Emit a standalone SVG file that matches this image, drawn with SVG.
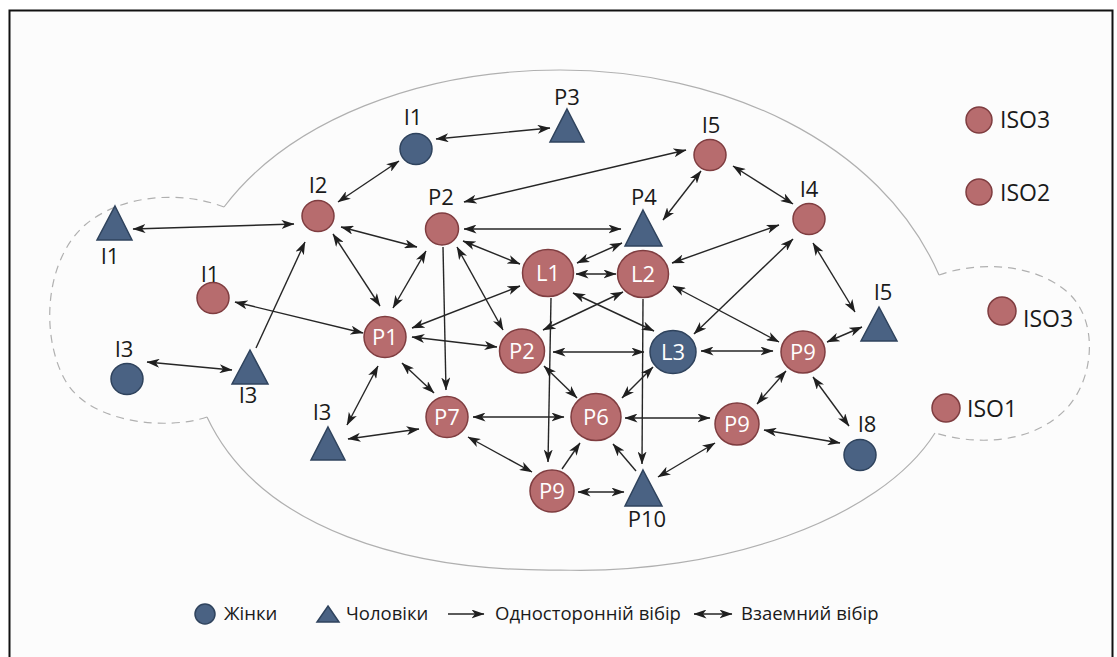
<svg xmlns="http://www.w3.org/2000/svg" width="1117" height="657" viewBox="0 0 1117 657">
<defs>
<marker id="arr" viewBox="0 0 13 9" refX="12.5" refY="4.5" markerWidth="13" markerHeight="9" markerUnits="userSpaceOnUse" orient="auto-start-reverse">
<path d="M0,0 L13,4.5 L0,9 L3.5,4.5 z" fill="#1f1f1f"/>
</marker>
<style>
.edge{stroke:#262626;stroke-width:1.4;fill:none}
.dbl{marker-start:url(#arr);marker-end:url(#arr)}
.one{marker-end:url(#arr)}
.red{fill:#b76c6e;stroke:#7f3d40;stroke-width:1.5}
.blue{fill:#4a6283;stroke:#2f435d;stroke-width:1.5}
.lbl{font-family:"Open Sans","Liberation Sans",sans-serif;font-size:22px;fill:#1a1a1a;text-anchor:middle}
.in{font-family:"Open Sans","Liberation Sans",sans-serif;font-size:22px;fill:#ffffff;text-anchor:middle}
.iso{font-family:"Open Sans","Liberation Sans",sans-serif;font-size:23px;fill:#1a1a1a}
.leg{font-family:"Open Sans","Liberation Sans",sans-serif;font-size:18.5px;fill:#1a1a1a}
.bnd{fill:none;stroke:#b0b0b0;stroke-width:1.2}
.dash{fill:none;stroke:#b0b0b0;stroke-width:1.2;stroke-dasharray:8 6}
</style>
</defs>
<rect x="0" y="0" width="1117" height="657" fill="#ffffff"/>
<rect x="9.5" y="10.5" width="1103" height="660" fill="#fcfcfc" stroke="#111" stroke-width="2"/>

<g id="boundary">
<path class="bnd" d="M224,207 C290,120 420,70 560,70 C720,70 880,140 939,275"/>
<path class="dash" d="M939,275 C975,262 1030,262 1065,290 C1100,318 1095,380 1065,410 C1030,445 975,445 935,433"/>
<path class="bnd" d="M935,433 C880,520 720,575 560,570 C410,572 260,530 207,417"/>
<path class="dash" d="M207,417 C170,430 90,425 65,380 C40,335 45,260 85,225 C120,195 180,190 224,207"/>
</g>

<g id="connectors">
<line class="edge dbl" x1="436" y1="139" x2="550" y2="128"/>
<line class="edge dbl" x1="338" y1="202" x2="399" y2="161"/>
<line class="edge dbl" x1="133" y1="229" x2="294" y2="224"/>
<line class="edge dbl" x1="341" y1="227" x2="417" y2="247"/>
<line class="edge dbl" x1="333" y1="234" x2="380" y2="306"/>
<line class="edge dbl" x1="426" y1="251" x2="393" y2="308"/>
<line class="edge one" x1="256" y1="348" x2="305" y2="242"/>
<line class="edge dbl" x1="235" y1="302" x2="363" y2="333"/>
<line class="edge dbl" x1="147" y1="362" x2="232" y2="370"/>
<line class="edge dbl" x1="378" y1="366" x2="347" y2="425"/>
<line class="edge dbl" x1="348" y1="439" x2="419" y2="429"/>
<line class="edge dbl" x1="402" y1="363" x2="434" y2="393"/>
<line class="edge one" x1="443" y1="247" x2="446" y2="390"/>
<line class="edge dbl" x1="464" y1="229" x2="621" y2="229"/>
<line class="edge dbl" x1="464" y1="202" x2="686" y2="150"/>
<line class="edge dbl" x1="463" y1="241" x2="520" y2="264"/>
<line class="edge dbl" x1="457" y1="247" x2="503" y2="330"/>
<line class="edge dbl" x1="520" y1="286" x2="412" y2="328"/>
<line class="edge dbl" x1="412" y1="337" x2="497" y2="347"/>
<line class="edge dbl" x1="623" y1="292" x2="543" y2="330"/>
<line class="edge dbl" x1="576" y1="274" x2="616" y2="274"/>
<line class="edge dbl" x1="577" y1="263" x2="622" y2="243"/>
<line class="edge dbl" x1="663" y1="220" x2="701" y2="171"/>
<line class="edge dbl" x1="733" y1="166" x2="793" y2="204"/>
<line class="edge dbl" x1="779" y1="225" x2="672" y2="263"/>
<line class="edge dbl" x1="793" y1="239" x2="694" y2="334"/>
<line class="edge dbl" x1="813" y1="243" x2="855" y2="312"/>
<line class="edge dbl" x1="673" y1="286" x2="779" y2="342"/>
<line class="edge dbl" x1="573" y1="293" x2="654" y2="331"/>
<line class="edge dbl" x1="553" y1="352" x2="644" y2="352"/>
<line class="edge dbl" x1="701" y1="351" x2="773" y2="351"/>
<line class="edge dbl" x1="827" y1="342" x2="862" y2="327"/>
<line class="edge dbl" x1="786" y1="371" x2="757" y2="404"/>
<line class="edge dbl" x1="813" y1="377" x2="849" y2="426"/>
<line class="edge dbl" x1="764" y1="430" x2="840" y2="443"/>
<line class="edge one" x1="551" y1="298" x2="548" y2="462"/>
<line class="edge one" x1="643" y1="299" x2="642" y2="464"/>
<line class="edge dbl" x1="544" y1="366" x2="577" y2="398"/>
<line class="edge dbl" x1="653" y1="367" x2="622" y2="398"/>
<line class="edge dbl" x1="473" y1="417" x2="564" y2="417"/>
<line class="edge dbl" x1="625" y1="418" x2="710" y2="418"/>
<line class="edge dbl" x1="468" y1="437" x2="532" y2="472"/>
<line class="edge one" x1="562" y1="469" x2="580" y2="443"/>
<line class="edge one" x1="636" y1="471" x2="613" y2="444"/>
<line class="edge dbl" x1="578" y1="492" x2="624" y2="492"/>
<line class="edge dbl" x1="658" y1="477" x2="715" y2="443"/>
</g>

<g id="I1-top"><ellipse class="blue" cx="416" cy="149" rx="16" ry="15.5"/><text class="lbl" x="413" y="125">I1</text></g>
<g id="P3-top"><polygon class="blue" points="567,109 584,142 550,142"/><text class="lbl" x="567" y="105">P3</text></g>
<g id="I5-top"><ellipse class="red" cx="710" cy="155" rx="16" ry="15.5"/><text class="lbl" x="711" y="133">I5</text></g>
<g id="I2"><ellipse class="red" cx="318" cy="216" rx="16" ry="15.5"/><text class="lbl" x="318" y="193">I2</text></g>
<g id="P2-top"><ellipse class="red" cx="442" cy="229" rx="16.5" ry="16"/><text class="lbl" x="441" y="205">P2</text></g>
<g id="P4"><polygon class="blue" points="643,210 662,246 625,246"/><text class="lbl" x="644" y="205">P4</text></g>
<g id="I4"><ellipse class="red" cx="809" cy="219" rx="16" ry="15.5"/><text class="lbl" x="809" y="197">I4</text></g>
<g id="I1-tri"><polygon class="blue" points="115,206 132,240 97,240"/><text class="lbl" x="110" y="264">I1</text></g>
<g id="I1-left"><ellipse class="red" cx="213" cy="298" rx="16" ry="15.5"/><text class="lbl" x="210" y="282">I1</text></g>
<g id="L1"><ellipse class="red" cx="548" cy="273" rx="25.5" ry="23.5"/><text class="in" x="548" y="281">L1</text></g>
<g id="L2"><ellipse class="red" cx="643" cy="274" rx="25.5" ry="23.5"/><text class="in" x="643" y="282">L2</text></g>
<g id="P1"><ellipse class="red" cx="385" cy="337" rx="21" ry="20.5"/><text class="in" x="385" y="345">P1</text></g>
<g id="P2-mid"><ellipse class="red" cx="522" cy="351" rx="22.5" ry="22"/><text class="in" x="522" y="359">P2</text></g>
<g id="L3"><ellipse class="blue" cx="673" cy="352" rx="23" ry="21.5"/><text class="in" x="673" y="360">L3</text></g>
<g id="P9-right"><ellipse class="red" cx="803" cy="352" rx="22" ry="21"/><text class="in" x="803" y="360">P9</text></g>
<g id="I5-tri"><polygon class="blue" points="879,307 897,341 861,341"/><text class="lbl" x="883" y="300">I5</text></g>
<g id="I3-circle"><ellipse class="blue" cx="127" cy="379" rx="16" ry="15.5"/><text class="lbl" x="124" y="357">I3</text></g>
<g id="I3-tri"><polygon class="blue" points="250,350 268,384 232,384"/><text class="lbl" x="248" y="403">I3</text></g>
<g id="I3-tri-low"><polygon class="blue" points="328,427 345,460 311,460"/><text class="lbl" x="322" y="420">I3</text></g>
<g id="P7"><ellipse class="red" cx="447" cy="417" rx="21" ry="20.5"/><text class="in" x="447" y="425">P7</text></g>
<g id="P6"><ellipse class="red" cx="596" cy="417" rx="25" ry="23.5"/><text class="in" x="596" y="425">P6</text></g>
<g id="P9-mid"><ellipse class="red" cx="737" cy="424" rx="22" ry="21"/><text class="in" x="737" y="432">P9</text></g>
<g id="I8"><ellipse class="blue" cx="860" cy="455" rx="16" ry="15.5"/><text class="lbl" x="867" y="432">I8</text></g>
<g id="P9-bottom"><ellipse class="red" cx="552" cy="491" rx="22" ry="21"/><text class="in" x="552" y="499">P9</text></g>
<g id="P10"><polygon class="blue" points="643,470 662,506 625,506"/><text class="lbl" x="647" y="527">P10</text></g>

<g id="ISO3-top"><circle class="red" cx="979" cy="120" r="13"/><text class="iso" x="1000" y="128">ISO3</text></g>
<g id="ISO2"><circle class="red" cx="979" cy="192" r="13"/><text class="iso" x="1000" y="201">ISO2</text></g>
<g id="ISO3-right"><circle class="red" cx="1002" cy="311" r="14"/><text class="iso" x="1023" y="327">ISO3</text></g>
<g id="ISO1"><circle class="red" cx="946" cy="408" r="14"/><text class="iso" x="967" y="417">ISO1</text></g>

<g id="legend">
<circle class="blue" cx="205" cy="614" r="10"/>
<text class="leg" x="224" y="620">Жінки</text>
<polygon class="blue" points="328,606 339,622 317,622"/>
<text class="leg" x="346" y="620">Чоловіки</text>
<line class="edge one" x1="448" y1="614" x2="484" y2="614"/>
<text class="leg" x="495" y="620">Односторонній вібір</text>
<line class="edge dbl" x1="694" y1="614" x2="732" y2="614"/>
<text class="leg" x="741" y="620">Взаемний вібір</text>
</g>
</svg>
